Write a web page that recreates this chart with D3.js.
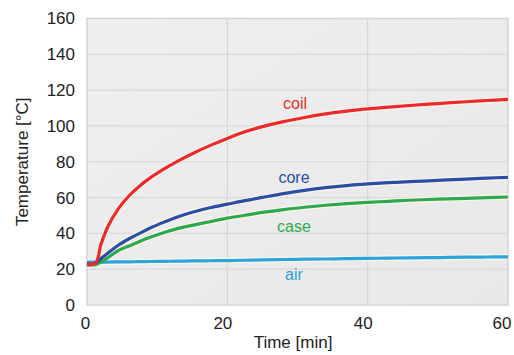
<!DOCTYPE html>
<html>
<head>
<meta charset="utf-8">
<script src="https://cdn.jsdelivr.net/npm/d3@7"></script>
<style>
  body { margin: 0; background: #fff; }
  text { font-family: Arial, "Liberation Sans", Helvetica, sans-serif; }
</style>
</head>
<body>
<script>
// time in minutes, shared by all series
var times = [0, 1.2, 2, 3, 4.5, 6, 7.5, 9, 11, 13, 15, 17.5, 20, 22.5, 25, 28, 31, 34, 37, 40, 43, 46, 50, 54, 57, 60];
var coil = [23, 23.3, 34, 44, 54, 61, 66.5, 71, 76, 80.5, 84.5, 89, 93, 96.7, 99.6, 102.4, 104.7, 106.7, 108.3, 109.5, 110.5, 111.4, 112.5, 113.5, 114.2, 114.8];
var core = [23, 23.3, 26, 29, 33.5, 37, 40, 43, 46.3, 49.3, 51.8, 54.3, 56.3, 58.3, 60.1, 62.2, 64, 65.5, 66.7, 67.6, 68.3, 68.9, 69.6, 70.3, 70.9, 71.3];
var caseT = [22.3, 22.5, 24, 26.5, 30.5, 33, 35.5, 37.8, 40.5, 42.8, 44.5, 46.5, 48.5, 50.1, 51.7, 53.3, 54.6, 55.7, 56.6, 57.3, 57.9, 58.5, 59.1, 59.6, 60, 60.3];
var air = [24, 24, 24, 24, 24.1, 24.1, 24.2, 24.3, 24.4, 24.5, 24.6, 24.7, 24.8, 25, 25.2, 25.4, 25.6, 25.7, 25.9, 26, 26.2, 26.3, 26.5, 26.7, 26.8, 26.9];

var seriesNames = ["air", "case", "core", "coil"];
var seriesColors = ["#2ba3dc", "#2ea84e", "#2a4ea6", "#ec2a2d"];
var xTicks = [0, 20, 40, 60];
var yTicks = [0, 20, 40, 60, 80, 100, 120, 140, 160];

var width = 514, height = 355;
var margin = {left: 87, right: 6, top: 18.5, bottom: 50};

var svg = d3.select("body").append("svg").attr("width", width).attr("height", height);

var x = d3.scaleLinear().domain([0, 60]).range([margin.left, width - margin.right]);
var y = d3.scaleLinear().domain([0, 160]).range([height - margin.bottom, margin.top]);

var defs = svg.append("defs");
var grad = defs.append("linearGradient").attr("id", "bg").attr("x1", 0).attr("y1", 0).attr("x2", 1).attr("y2", 1);
grad.append("stop").attr("offset", "0%").attr("stop-color", "#efefef");
grad.append("stop").attr("offset", "100%").attr("stop-color", "#e8e8e8");

svg.append("rect")
  .attr("x", x(0)).attr("y", y(160))
  .attr("width", x(60) - x(0)).attr("height", y(0) - y(160))
  .attr("fill", "url(#bg)");

// grid
svg.append("g").selectAll("line").data(yTicks.slice(1, -1)).enter().append("line")
  .attr("x1", x(0)).attr("x2", x(60))
  .attr("y1", function(d) { return y(d); }).attr("y2", function(d) { return y(d); })
  .attr("stroke", "#d9d9d9").attr("stroke-width", 1.2);
svg.append("g").selectAll("line").data(xTicks.slice(1, -1)).enter().append("line")
  .attr("y1", y(0)).attr("y2", y(160))
  .attr("x1", function(d) { return x(d); }).attr("x2", function(d) { return x(d); })
  .attr("stroke", "#d6d6d6").attr("stroke-width", 1.2);

svg.append("rect")
  .attr("x", x(0)).attr("y", y(160))
  .attr("width", x(60) - x(0)).attr("height", y(0) - y(160))
  .attr("fill", "none").attr("stroke", "#d4d4d4").attr("stroke-width", 1.5);

// axes
var yAxis = svg.append("g")
  .attr("transform", "translate(" + (x(0) - 12) + ",0)")
  .call(d3.axisLeft(y).tickValues(yTicks).tickSize(0));
yAxis.select(".domain").remove();
yAxis.selectAll("text").attr("font-size", 17).attr("fill", "#222").attr("x", 0);

var xAxis = svg.append("g")
  .attr("transform", "translate(0," + (y(0) + 9) + ")")
  .call(d3.axisBottom(x).tickValues(xTicks).tickSize(0));
xAxis.select(".domain").remove();
xAxis.selectAll("text").attr("font-size", 17).attr("fill", "#222")
  .attr("dx", function(d) { return d === 0 ? "-2" : "-5"; })
  .attr("text-anchor", function(d) { return d === 60 ? "end" : "middle"; })
  .attr("x", function(d) { return d === 60 ? 8 : 0; });

svg.append("text")
  .attr("x", 293).attr("y", 348)
  .attr("text-anchor", "middle").attr("font-size", 17).attr("fill", "#222")
  .text("Time [min]");

svg.append("text")
  .attr("transform", "translate(28," + ((y(0) + y(160)) / 2) + ") rotate(-90)")
  .attr("text-anchor", "middle").attr("font-size", 17).attr("fill", "#222")
  .text("Temperature [°C]");

// lines
var data = {air: air, "case": caseT, core: core, coil: coil};
var line = d3.line()
  .x(function(d, i) { return x(times[i]); })
  .y(function(d) { return y(d); })
  .curve(d3.curveCatmullRom.alpha(0.5));

var lines = svg.append("g");
seriesNames.forEach(function(name) {
  lines.append("path")
    .attr("d", line(data[name]))
    .attr("fill", "none").attr("stroke", "#fbf7ea").attr("stroke-width", 5.5)
    .attr("stroke-linejoin", "round");
});
seriesNames.forEach(function(name, k) {
  lines.append("path")
    .attr("d", line(data[name]))
    .attr("fill", "none").attr("stroke", seriesColors[k]).attr("stroke-width", 3.2)
    .attr("stroke-linejoin", "round");
});

// labels
var labelX = [294, 294, 294, 295];
var labelY = [280, 231.5, 182.5, 109];
seriesNames.forEach(function(name, k) {
  svg.append("text")
    .attr("x", labelX[k]).attr("y", labelY[k])
    .attr("text-anchor", "middle").attr("font-size", 16)
    .attr("fill", seriesColors[k])
    .text(name);
});
</script>
</body>
</html>
